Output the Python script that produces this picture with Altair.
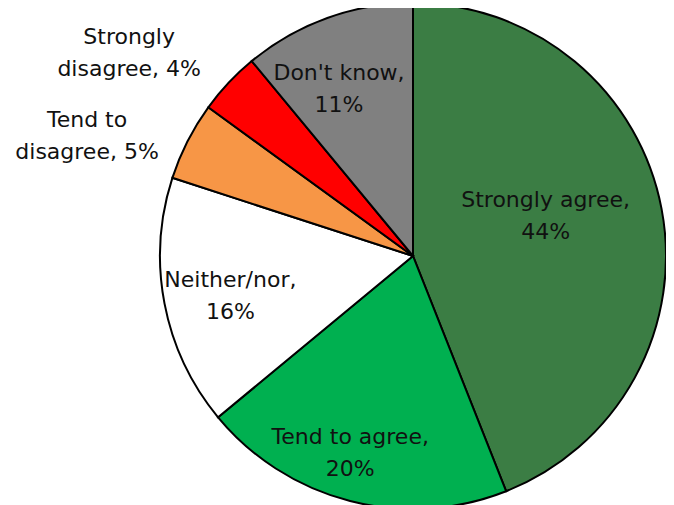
import altair as alt
import pandas as pd

categories = ["Strongly agree", "Tend to agree", "Neither/nor",
              "Tend to disagree", "Strongly disagree", "Don't know"]
values = [44, 20, 16, 5, 4, 11]
colors = ["#3B7D44", "#00B050", "#FFFFFF", "#F79646", "#FF0000", "#808080"]

outside = {"Tend to disagree", "Strongly disagree"}


def make_label(c, v):
    if c in outside:
        a, b = c.rsplit(" ", 1)
        return f"{a}\n{b}, {v}%"
    return f"{c},\n{v}%"


df = pd.DataFrame({
    "category": categories,
    "value": values,
    "order": list(range(len(categories))),
    "label": [make_label(c, v) for c, v in zip(categories, values)],
})

CX, CY = 405, 248
R = 253

base = alt.Chart(df).encode(
    theta=alt.Theta("value:Q", stack=True),
    order=alt.Order("order:Q"),
)

arc = base.mark_arc(outerRadius=R, stroke="black", strokeWidth=2).encode(
    color=alt.Color("category:N", scale=alt.Scale(domain=categories, range=colors), legend=None),
    x=alt.value(CX),
    y=alt.value(CY),
)

# radius, dx, dy for each label
placements = {
    "Strongly agree": (135, 0, -31),
    "Tend to agree": (200, -13, -13),
    "Neither/nor": (192, 6, -12),
    "Tend to disagree": (340, -23, 18),
    "Strongly disagree": (340, -36, 14),
    "Don't know": (180, -13, -14),
}

layers = [arc]
for cat, (r, dx, dy) in placements.items():
    layers.append(
        base.mark_text(
            radius=r, dx=dx, dy=dy, font="DejaVu Sans", fontSize=22,
            lineBreak="\n", lineHeight=32, align="center", baseline="middle",
            color="#111111",
        ).encode(
            text=alt.condition(alt.datum.category == cat, "label:N", alt.value("")),
            x=alt.value(CX),
            y=alt.value(CY),
        )
    )

chart = alt.layer(*layers).properties(
    width=658, height=497, padding=0, autosize="none"
).configure_view(stroke=None)

chart.save("out.html", embed_options={"renderer": "svg", "actions": False})
